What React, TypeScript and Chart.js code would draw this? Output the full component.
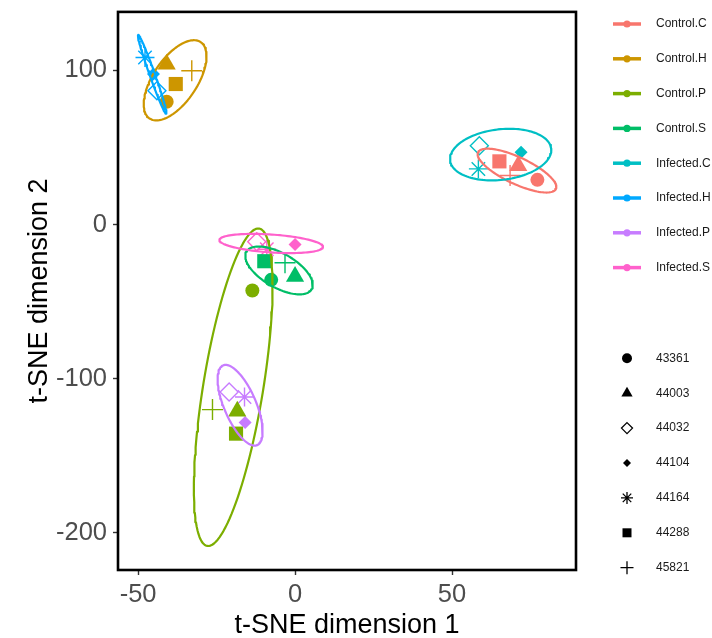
import React, { useEffect, useRef } from "react";
import { Chart, registerables } from "chart.js";
Chart.register(...registerables);

// ---- categories ----
const groups = ["Control.C", "Control.H", "Control.P", "Control.S", "Infected.C", "Infected.H", "Infected.P", "Infected.S"];
const groupColors = ["#F8766D", "#CD9600", "#7CAE00", "#00BE67", "#00BFC4", "#00A9FF", "#C77CFF", "#FF61CC"];
const samples = ["43361", "44003", "44032", "44104", "44164", "44288", "45821"];

// ---- points: [tSNE1, tSNE2, sample] ----
const controlC = [[65.1, 41.0, "44288"], [71.1, 38.2, "44003"], [77.2, 29.0, "43361"], [68.5, 31.8, "45821"]];
const controlH = [[-40.9, 104.1, "44003"], [-38.0, 91.2, "44288"], [-40.9, 79.7, "43361"], [-32.9, 99.8, "45821"]];
const controlP = [[-13.6, -42.8, "43361"], [-18.4, -121.2, "44003"], [-18.8, -135.7, "44288"], [-26.3, -120.1, "45821"]];
const controlS = [[-9.8, -23.8, "44288"], [-3.2, -24.8, "45821"], [-7.6, -35.9, "43361"], [0.0, -33.7, "44003"]];
const infectedC = [[58.7, 51.2, "44032"], [58.4, 36.1, "44164"], [72.0, 46.9, "44104"]];
const infectedH = [[-47.8, 108.4, "44164"], [-45.1, 97.7, "44104"], [-44.0, 86.8, "44032"]];
const infectedP = [[-21.0, -108.7, "44032"], [-16.1, -111.9, "44164"], [-15.9, -128.5, "44104"]];
const infectedS = [[-12.2, -11.2, "44032"], [-9.0, -16.0, "44164"], [0.0, -13.0, "44104"]];
const groupPoints = [controlC, controlH, controlP, controlS, infectedC, infectedH, infectedP, infectedS];

// ---- 95% ellipses: [centre x, centre y, axis1 dx, axis1 dy, axis2 dx, axis2 dy] ----
const ellipseControlC = [70.7, 35.0, 12.4, -11.9, -1.8, -7.8];
const ellipseControlH = [-38.2, 93.6, 8.13, 24.8, 5.83, -7.9];
const ellipseControlP = [-19.7, -105.6, 8.26, 103.0, 9.43, -3.13];
const ellipseControlS = [-5.1, -29.8, 10.4, -12.2, -2.72, -9.6];
const ellipseInfectedC = [65.5, 45.4, 16.1, 3.87, 0.95, -16.3];
const ellipseInfectedH = [-45.5, 97.5, 4.46, -25.6, 0.8, 0.6];
const ellipseInfectedP = [-17.5, -117.3, 5.42, -25.9, -4.69, -4.06];
const ellipseInfectedS = [-7.6, -12.3, 16.5, -2.3, -0.2, -5.8];
const groupEllipses = [ellipseControlC, ellipseControlH, ellipseControlP, ellipseControlS, ellipseInfectedC, ellipseInfectedH, ellipseInfectedP, ellipseInfectedS];

// ---- axes ----
const xTicks = [-50, 0, 50];
const yTicks = [-200, -100, 0, 100];
const xRange = [-56.4, 89.5];
const yRange = [-224.2, 138.0];

const FONT = "'Liberation Sans', Arial, Helvetica, sans-serif";

type ShapeDef = { style: string; radius: number; filled: boolean; bw: number };
const shapeOf: Record<string, ShapeDef> = {
  "43361": { style: "circle", radius: 7, filled: true, bw: 0 },
  "44003": { style: "triangle", radius: 10.5, filled: true, bw: 0 },
  "44032": { style: "rectRot", radius: 9, filled: false, bw: 1.4 },
  "44104": { style: "rectRot", radius: 6.5, filled: true, bw: 0 },
  "44164": { style: "star", radius: 9.5, filled: false, bw: 1.4 },
  "44288": { style: "rect", radius: 10, filled: true, bw: 0 },
  "45821": { style: "cross", radius: 10.5, filled: false, bw: 1.4 },
};

function ellipsePath(e: number[]) {
  const [cx, cy, ux, uy, vx, vy] = e;
  const pts: { x: number; y: number }[] = [];
  const n = 120;
  for (let i = 0; i <= n + 2; i++) {
    const t = (i / n) * Math.PI * 2;
    pts.push({ x: cx + ux * Math.cos(t) + vx * Math.sin(t), y: cy + uy * Math.cos(t) + vy * Math.sin(t) });
  }
  return pts;
}

function drawLegendShape(ctx: CanvasRenderingContext2D, style: string, x: number, y: number) {
  ctx.save();
  ctx.fillStyle = "#000";
  ctx.strokeStyle = "#000";
  ctx.lineWidth = 1.3;
  ctx.beginPath();
  switch (style) {
    case "43361":
      ctx.arc(x, y, 5, 0, Math.PI * 2);
      ctx.fill();
      break;
    case "44003": {
      const r = 6.5;
      ctx.moveTo(x, y - r);
      ctx.lineTo(x + r * 0.866, y + r * 0.5);
      ctx.lineTo(x - r * 0.866, y + r * 0.5);
      ctx.closePath();
      ctx.fill();
      break;
    }
    case "44032": {
      const r = 5.5;
      ctx.moveTo(x, y - r);
      ctx.lineTo(x + r, y);
      ctx.lineTo(x, y + r);
      ctx.lineTo(x - r, y);
      ctx.closePath();
      ctx.stroke();
      break;
    }
    case "44104": {
      const r = 4;
      ctx.moveTo(x, y - r);
      ctx.lineTo(x + r, y);
      ctx.lineTo(x, y + r);
      ctx.lineTo(x - r, y);
      ctx.closePath();
      ctx.fill();
      break;
    }
    case "44164": {
      const r = 6;
      for (let k = 0; k < 4; k++) {
        const a = (k * Math.PI) / 4;
        ctx.moveTo(x - r * Math.cos(a), y - r * Math.sin(a));
        ctx.lineTo(x + r * Math.cos(a), y + r * Math.sin(a));
      }
      ctx.stroke();
      break;
    }
    case "44288":
      ctx.rect(x - 4.5, y - 4.5, 9, 9);
      ctx.fill();
      break;
    case "45821": {
      const r = 6.5;
      ctx.moveTo(x - r, y);
      ctx.lineTo(x + r, y);
      ctx.moveTo(x, y - r);
      ctx.lineTo(x, y + r);
      ctx.stroke();
      break;
    }
  }
  ctx.restore();
}

const decorPlugin = {
  id: "decor",
  afterDatasetsDraw(chart: any) {
    const { ctx, chartArea: a } = chart;
    ctx.save();
    ctx.strokeStyle = "#000";
    ctx.lineWidth = 2.6;
    ctx.strokeRect(a.left, a.top, a.right - a.left, a.bottom - a.top);
    ctx.restore();
  },
  afterDraw(chart: any) {
    const ctx: CanvasRenderingContext2D = chart.ctx;
    ctx.save();
    ctx.font = `12px ${FONT}`;
    ctx.textBaseline = "middle";
    ctx.textAlign = "left";
    groups.forEach((g, i) => {
      const y = 24 + i * 34.8;
      ctx.strokeStyle = groupColors[i];
      ctx.lineWidth = 3.5;
      ctx.beginPath();
      ctx.moveTo(613, y);
      ctx.lineTo(641, y);
      ctx.stroke();
      ctx.fillStyle = groupColors[i];
      ctx.beginPath();
      ctx.arc(627, y, 3.6, 0, Math.PI * 2);
      ctx.fill();
      ctx.fillStyle = "#1a1a1a";
      ctx.fillText(g, 656, y);
    });
    samples.forEach((s, i) => {
      const y = 358.3 + i * 34.9;
      drawLegendShape(ctx, s, 627, y);
      ctx.fillStyle = "#1a1a1a";
      ctx.fillText(s, 656, y);
    });
    ctx.restore();
  },
};

export default function App() {
  const ref = useRef<HTMLCanvasElement | null>(null);
  useEffect(() => {
    document.body.style.margin = "0";
    if (!ref.current) return;
    const pointSets = groupPoints.map((pts, gi) => {
      const c = groupColors[gi];
      const defs = pts.map((p) => shapeOf[p[2] as string]);
      return {
        type: "scatter",
        label: groups[gi],
        data: pts.map((p) => ({ x: p[0] as number, y: p[1] as number })),
        pointStyle: defs.map((d) => d.style),
        pointRadius: defs.map((d) => d.radius),
        pointHoverRadius: defs.map((d) => d.radius),
        backgroundColor: defs.map((d) => (d.filled ? c : "rgba(0,0,0,0)")),
        borderColor: c,
        pointBorderWidth: defs.map((d) => d.bw),
        borderWidth: defs.map((d) => d.bw),
        order: 2,
      };
    });
    const ellipseSets = groupEllipses.map((e, gi) => ({
      type: "scatter",
      label: groups[gi] + " ellipse",
      data: ellipsePath(e),
      showLine: true,
      fill: false,
      tension: 0,
      pointRadius: 0,
      pointHoverRadius: 0,
      borderColor: groupColors[gi],
      borderWidth: 2.2,
      borderJoinStyle: "round",
      borderCapStyle: "round",
      order: 1,
    }));
    const chart = new Chart(ref.current, {
      type: "scatter",
      data: { datasets: [...ellipseSets.slice().reverse(), ...pointSets] as any },
      options: {
        animation: false,
        responsive: true,
        maintainAspectRatio: false,
        layout: { padding: { left: 0, top: 11, right: 136, bottom: 0 } },
        plugins: { legend: { display: false }, tooltip: { enabled: false } },
        events: [],
        scales: {
          x: {
            type: "linear",
            min: xRange[0],
            max: xRange[1],
            afterBuildTicks: (s: any) => {
              s.ticks = xTicks.map((v) => ({ value: v }));
            },
            afterFit: (s: any) => {
              s.height = 68;
              s.paddingLeft = 0;
              s.paddingRight = 0;
              s.paddingTop = 0;
              s.paddingBottom = 0;
            },
            grid: { drawOnChartArea: false, drawTicks: true, tickLength: 5, tickWidth: 1.4, tickColor: "#333333" },
            border: { display: false },
            ticks: { color: "#4D4D4D", font: { size: 25.5, family: FONT }, padding: 5, maxRotation: 0, autoSkip: false },
            title: { display: true, text: "t-SNE dimension 1", color: "#000", font: { size: 27, family: FONT }, padding: { top: 0, bottom: -4 } },
          },
          y: {
            type: "linear",
            min: yRange[0],
            max: yRange[1],
            afterBuildTicks: (s: any) => {
              s.ticks = yTicks.map((v) => ({ value: v }));
            },
            afterFit: (s: any) => {
              s.width = 118;
              s.paddingLeft = 0;
              s.paddingRight = 0;
              s.paddingTop = 0;
              s.paddingBottom = 0;
            },
            grid: { drawOnChartArea: false, drawTicks: true, tickLength: 5, tickWidth: 1.4, tickColor: "#333333" },
            border: { display: false },
            ticks: { color: "#4D4D4D", font: { size: 25.5, family: FONT }, padding: 6, autoSkip: false },
            title: { display: true, text: "t-SNE dimension 2", color: "#000", font: { size: 27, family: FONT }, padding: { top: 23, bottom: 0 } },
          },
        },
      } as any,
      plugins: [decorPlugin],
    });
    return () => chart.destroy();
  }, []);
  return (
    <div style={{ position: "relative", width: 712, height: 638, background: "#fff" }}>
      <canvas ref={ref} />
    </div>
  );
}
